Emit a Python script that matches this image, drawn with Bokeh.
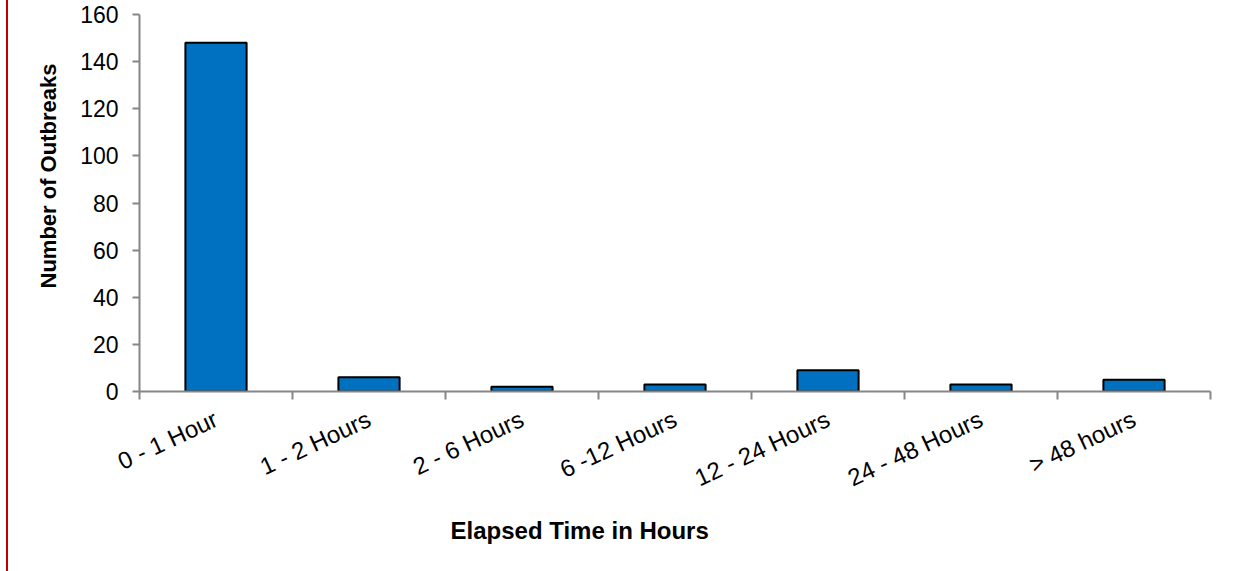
import math
from bokeh.plotting import figure
from bokeh.models import FixedTicker, Range1d, Title, ColumnDataSource
from bokeh.embed import file_html
from bokeh.resources import INLINE

categories = ["0 - 1 Hour", "1 - 2 Hours", "2 - 6 Hours", "6 -12 Hours",
              "12 - 24 Hours", "24 - 48 Hours", "> 48 hours"]
outbreaks = [148, 6, 2, 3, 9, 3, 5]
y_ticks = [0, 20, 40, 60, 80, 100, 120, 140, 160]

FONT = "Liberation Sans"
GRAY = "#868686"

centers = [i + 0.5 for i in range(len(categories))]
src = ColumnDataSource(dict(x=centers, top=outbreaks))

p = figure(width=1225, height=571, output_backend="svg", toolbar_location=None,
           x_range=Range1d(0, len(categories)), y_range=Range1d(0, 160),
           min_border_left=131, min_border_right=23, min_border_top=14,
           min_border_bottom=180)
p.styles = {"margin-left": "6px", "border-left": "2px solid #C00000"}
p.outline_line_color = None
p.grid.grid_line_color = None
p.background_fill_color = "white"
p.border_fill_color = "white"

p.vbar(x="x", top="top", width=0.4, source=src, fill_color="#0070C0",
       line_color="black", line_width=2)

# y axis
p.yaxis.ticker = FixedTicker(ticks=y_ticks)
p.yaxis.axis_line_color = GRAY
p.yaxis.axis_line_width = 2
p.yaxis.major_tick_line_color = GRAY
p.yaxis.major_tick_line_width = 2
p.yaxis.major_tick_out = 7
p.yaxis.major_tick_in = 0
p.yaxis.minor_tick_line_color = None
p.yaxis.major_label_text_font = FONT
p.yaxis.major_label_text_font_size = "23px"
p.yaxis.major_label_text_color = "black"
p.yaxis.major_label_standoff = 14

# x axis: labels at category centers, ticks at category boundaries
p.xaxis.ticker = FixedTicker(ticks=centers, minor_ticks=list(range(len(categories) + 1)))
p.xaxis.major_label_overrides = {c: lab for c, lab in zip(centers, categories)}
p.xaxis.axis_line_color = GRAY
p.xaxis.axis_line_width = 2
p.xaxis.major_tick_line_color = None
p.xaxis.minor_tick_line_color = GRAY
p.xaxis.minor_tick_line_width = 2
p.xaxis.minor_tick_out = 8
p.xaxis.minor_tick_in = 0
p.xaxis.major_label_orientation = math.radians(25)
p.xaxis.major_label_text_font = FONT
p.xaxis.major_label_text_font_size = "24px"
p.xaxis.major_label_text_color = "black"
p.xaxis.major_label_standoff = 18

p.add_layout(Title(text="Number of Outbreaks", align="left", offset=103,
                   text_font=FONT, text_font_size="22px", text_font_style="bold",
                   text_color="black", standoff=34), "left")
p.add_layout(Title(text="Elapsed Time in Hours", align="left", offset=311,
                   text_font=FONT, text_font_size="24px", text_font_style="bold",
                   text_color="black", standoff=16), "below")

open("out.html", "w").write(file_html(p, INLINE))
